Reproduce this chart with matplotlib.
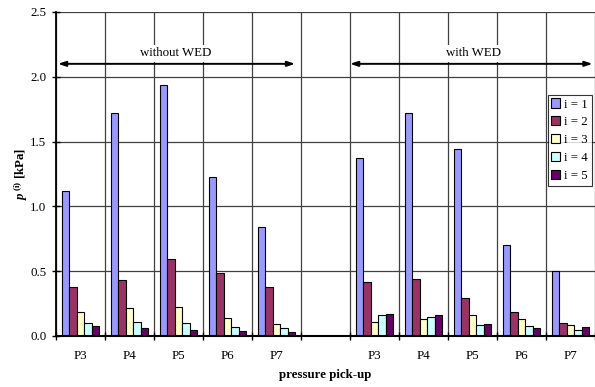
import numpy as np
import matplotlib
matplotlib.use("Agg")
import matplotlib.pyplot as plt
from matplotlib.patches import Patch

plt.rcParams['font.family'] = ['Liberation Serif', 'DejaVu Serif']
plt.rcParams['mathtext.fontset'] = 'custom'
plt.rcParams['mathtext.it'] = 'Liberation Serif:italic:bold'
plt.rcParams['mathtext.rm'] = 'Liberation Serif:bold'
plt.rcParams['mathtext.bf'] = 'Liberation Serif:bold'

nan = float('nan')
categories = ["P3", "P4", "P5", "P6", "P7", "", "P3", "P4", "P5", "P6", "P7"]
i1 = [1.12, 1.72, 1.94, 1.23, 0.84, nan, 1.37, 1.72, 1.44, 0.70, 0.50]
i2 = [0.38, 0.43, 0.595, 0.485, 0.377, nan, 0.415, 0.437, 0.293, 0.183, 0.103]
i3 = [0.188, 0.216, 0.226, 0.141, 0.09, nan, 0.108, 0.134, 0.162, 0.131, 0.087]
i4 = [0.103, 0.11, 0.098, 0.072, 0.059, nan, 0.16, 0.147, 0.085, 0.075, 0.046]
i5 = [0.077, 0.062, 0.046, 0.039, 0.031, nan, 0.167, 0.16, 0.093, 0.064, 0.072]
series_labels = ["i = 1", "i = 2", "i = 3", "i = 4", "i = 5"]
colors = ["#9999FF", "#993366", "#FFFFCC", "#CCFFFF", "#660066"]
yticks = [0.0, 0.5, 1.0, 1.5, 2.0, 2.5]

fig = plt.figure(figsize=(5.95, 3.87), dpi=100)
ax = fig.add_axes([56/595, 51/387, 539/595, 324/387])

x = np.arange(len(categories))
bw = 0.155
series = [i1, i2, i3, i4, i5]
for k, (vals, col, lab) in enumerate(zip(series, colors, series_labels)):
    ax.bar(x + (k - 2) * bw, vals, width=bw, color=col, edgecolor='black',
           linewidth=0.8, label=lab, zorder=2)

ax.set_xlim(-0.5, len(categories) - 0.5)
ax.set_ylim(0, 2.5)
ax.set_yticks(yticks)
ax.set_yticklabels([f"{v:.1f}" for v in yticks], fontsize=9.3)
ax.set_xticks(x)
ax.set_xticklabels(categories, fontsize=9.3)
ax.set_xticks(np.arange(-0.5, len(categories), 1.0), minor=True)
ax.tick_params(axis='x', which='major', length=0, pad=10)
ax.tick_params(axis='x', which='minor', direction='inout', length=6, width=1.0)
ax.tick_params(axis='y', which='major', direction='inout', length=6, width=1.0, pad=4)

ax.set_axisbelow(True)
ax.grid(axis='y', which='major', color='#404040', linewidth=0.9)
ax.grid(axis='x', which='minor', color='#404040', linewidth=0.9)

for s in ['top', 'right']:
    ax.spines[s].set_visible(False)
ax.spines['left'].set_linewidth(1.3)
ax.spines['bottom'].set_linewidth(1.5)

ax.set_xlabel("pressure pick-up", fontsize=9.3, fontweight='bold', labelpad=5)
ax.set_ylabel(r"$p^{\,\mathrm{(i)}}$ [kPa]", fontsize=9.3, fontweight='bold', labelpad=0)

arrow_kw = dict(arrowstyle='<|-|>,head_length=0.45,head_width=0.15', color='black', lw=1.4,
                shrinkA=0, shrinkB=0)
ax.annotate("", xy=(-0.46, 2.1), xytext=(4.38, 2.1), arrowprops=arrow_kw, zorder=4)
ax.annotate("", xy=(5.5, 2.1), xytext=(10.45, 2.1), arrowprops=arrow_kw, zorder=4)
bbox = dict(facecolor='white', edgecolor='none', pad=1.5)
ax.text(1.95, 2.18, "without WED", ha='center', va='center', fontsize=9.3, bbox=bbox, zorder=3)
ax.text(8.03, 2.18, "with WED", ha='center', va='center', fontsize=9.3, bbox=bbox, zorder=3)

handles = [Patch(facecolor=c, edgecolor='black', linewidth=0.8) for c in colors]
leg = ax.legend(handles, series_labels, loc='upper left', bbox_to_anchor=(0.912, 0.745),
                fontsize=9.3, frameon=True, fancybox=False, edgecolor='black',
                handlelength=0.7, handleheight=0.7, handletextpad=0.3,
                borderpad=0.3, labelspacing=0.45, borderaxespad=0)
leg.get_frame().set_linewidth(0.8)
leg.set_zorder(5)

fig.savefig("out.png", dpi=100)
